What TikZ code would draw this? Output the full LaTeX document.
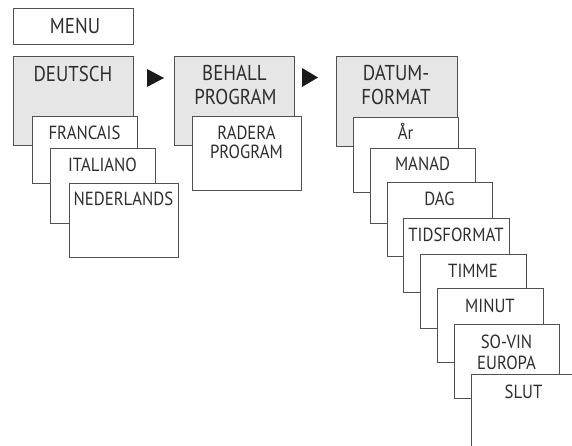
\documentclass[tikz,border=0pt]{standalone}
\usepackage{fontspec}
\setmainfont[FakeStretch=0.88]{PT Sans}
\definecolor{linec}{HTML}{505050}
\definecolor{txtc}{HTML}{2E2E2E}
\definecolor{grayf}{HTML}{E6E6E6}
\definecolor{tric}{HTML}{1A1A1A}
\begin{document}
\begin{tikzpicture}[x=1pt,y=-1pt,
  box/.style={draw=linec, line width=1.2pt, fill=white, anchor=north west, inner sep=0pt, rectangle},
  graybox/.style={box, fill=grayf},
  lbl/.style={anchor=base, inner sep=0pt, text=txtc, font=\fontsize{19}{22}\selectfont},
  biglbl/.style={lbl, font=\fontsize{21.5}{24}\selectfont},
  tri/.style={fill=tric, draw=none}]
\clip (0,0) rectangle (572,446);
\fill[white] (0,0) rectangle (572,446);
% column 1
\node[box, minimum width=120pt, minimum height=36pt] (menu) at (13,8) {};
\node[biglbl] (tmenu) at (75,34) {MENU};
\node[graybox, minimum width=120pt, minimum height=89pt] (deutsch) at (13,56) {};
\node[biglbl] (tdeutsch) at (73,82) {DEUTSCH};
\node[box, minimum width=105pt, minimum height=67pt] (francais) at (32,116) {};
\node[lbl] (tfrancais) at (84.5,140) {FRANCAIS};
\node[box, minimum width=105pt, minimum height=75pt] (italiano) at (50,148) {};
\node[lbl] (titaliano) at (102.5,172) {ITALIANO};
\node[box, minimum width=109pt, minimum height=74pt] (nederlands) at (69,183) {};
\node[lbl] (tnederlands) at (123.5,206) {NEDERLANDS};
% column 2
\node[graybox, minimum width=120pt, minimum height=89pt] (behall) at (174,56) {};
\node[biglbl] (tbehall) at (234.5,81) {BEHALL};
\node[biglbl] (tprogram) at (235.5,105) {PROGRAM};
\node[box, minimum width=109pt, minimum height=74pt] (radera) at (192,116) {};
\node[lbl] (tradera) at (246.5,140) {RADERA};
\node[lbl] (tprogramb) at (246.5,159) {PROGRAM};
% column 3
\node[graybox, minimum width=121pt, minimum height=90pt] (datum) at (336,56) {};
\node[biglbl] (tdatum) at (396,81) {DATUM-};
\node[biglbl] (tformat) at (396,105) {FORMAT};
\node[box, minimum width=105pt, minimum height=75pt] (ar) at (353,117) {};
\node[lbl] (tar) at (405.5,140) {År};
\node[box, minimum width=105pt, minimum height=75pt] (manad) at (370,148) {};
\node[lbl] (tmanad) at (422.5,171) {MANAD};
\node[box, minimum width=105pt, minimum height=74pt] (dag) at (387,182) {};
\node[lbl] (tdag) at (439.5,206) {DAG};
\node[box, minimum width=106pt, minimum height=74pt] (tids) at (403,218) {};
\node[lbl] (ttids) at (456,241) {TIDSFORMAT};
\node[box, minimum width=106pt, minimum height=74pt] (timme) at (420,254) {};
\node[lbl] (ttimme) at (473,277) {TIMME};
\node[box, minimum width=106pt, minimum height=74pt] (minut) at (437,288) {};
\node[lbl] (tminut) at (490,312) {MINUT};
\node[box, minimum width=105pt, minimum height=74pt] (sovin) at (454,324) {};
\node[lbl] (tsovin) at (506.5,348) {SO-VIN};
\node[lbl] (teuropa) at (506.5,369) {EUROPA};
\node[box, minimum width=105pt, minimum height=90pt] (slut) at (471,374) {};
\node[lbl] (tslut) at (523.5,398) {SLUT};
% arrows
\fill[tri] (147,69) -- (147,87) -- (164,78) -- cycle;
\fill[tri] (302,68) -- (302,87) -- (318,77.5) -- cycle;
\end{tikzpicture}
\end{document}
